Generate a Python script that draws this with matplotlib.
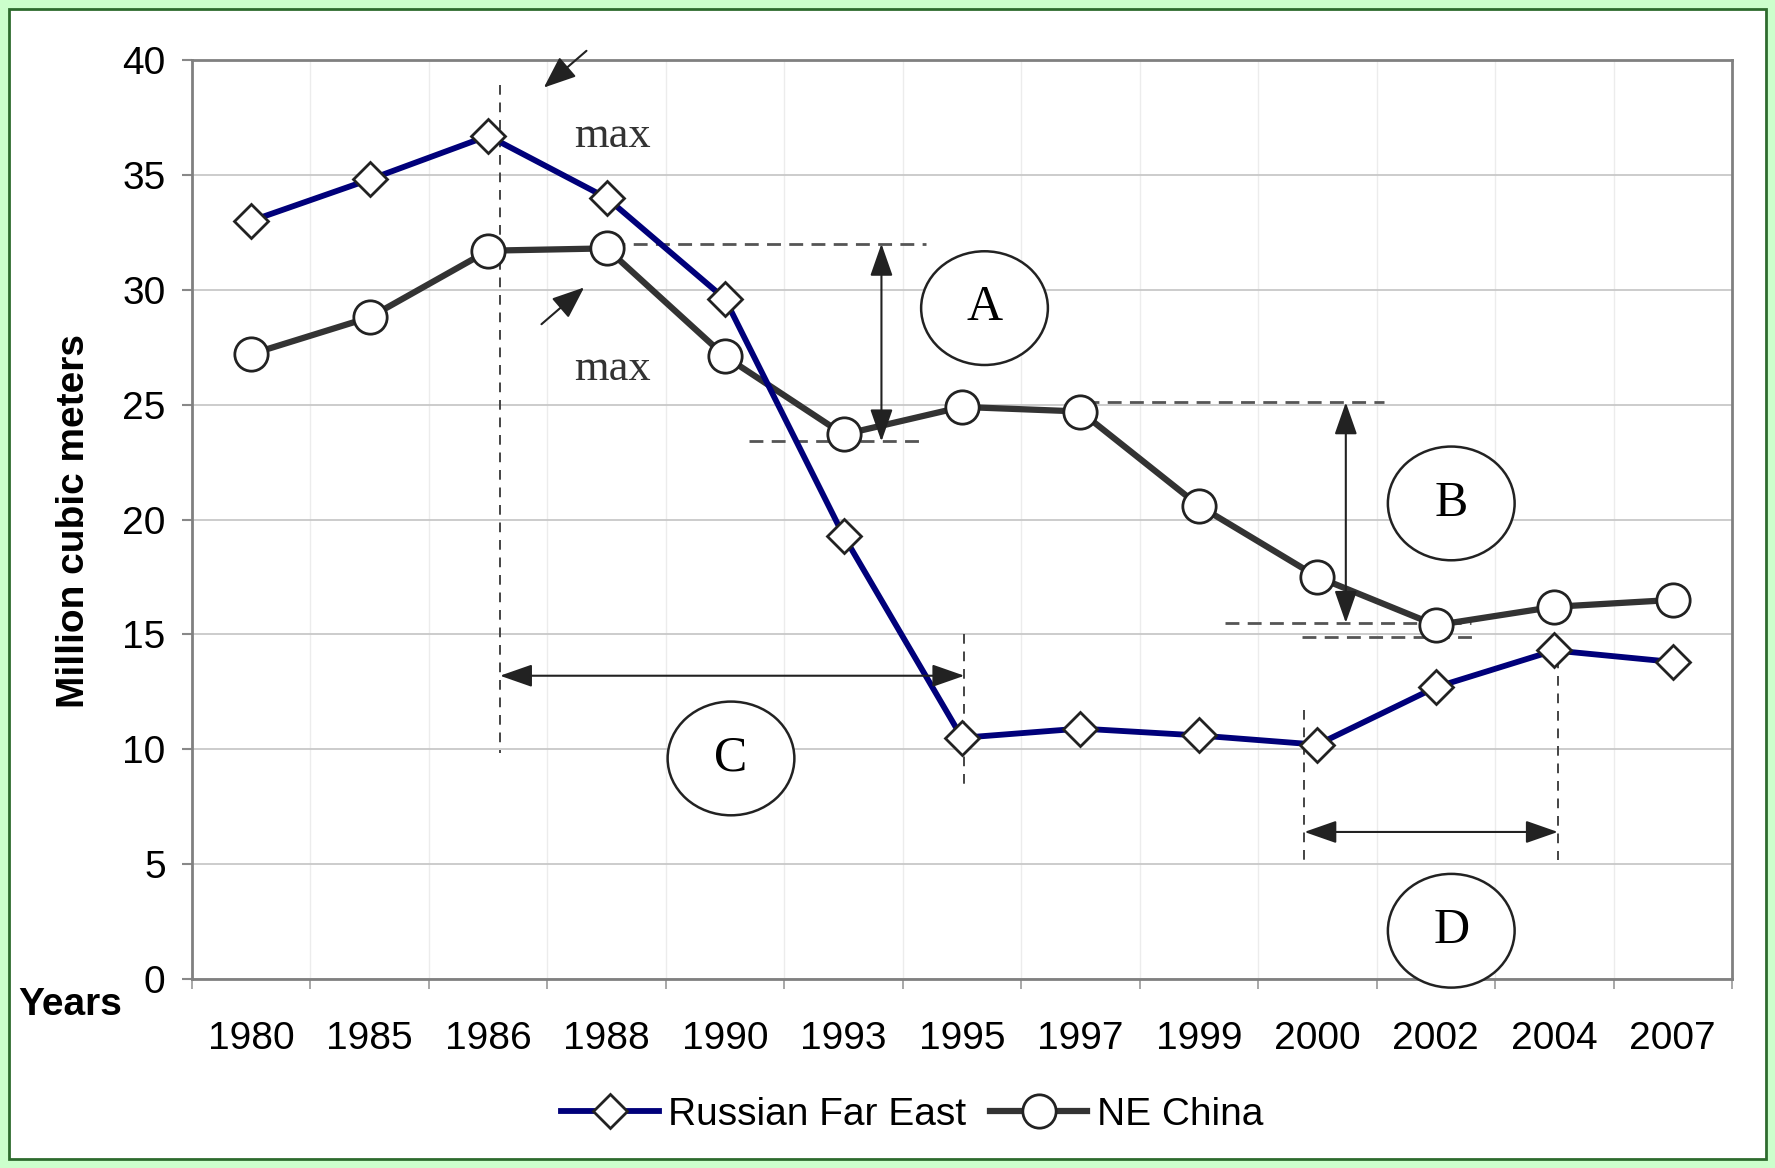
import numpy as np
import matplotlib
matplotlib.use("Agg")
import matplotlib.pyplot as plt
from matplotlib.patches import Ellipse, Rectangle

years = ["1980", "1985", "1986", "1988", "1990", "1993", "1995",
         "1997", "1999", "2000", "2002", "2004", "2007"]
russian_far_east = [33.0, 34.8, 36.7, 34.0, 29.6, 19.3, 10.5,
                    10.9, 10.6, 10.2, 12.7, 14.3, 13.8]
ne_china = [27.2, 28.8, 31.7, 31.8, 27.1, 23.7, 24.9,
            24.7, 20.6, 17.5, 15.4, 16.2, 16.5]

plt.rcParams['font.family'] = ['Liberation Sans', 'DejaVu Sans']

fig = plt.figure(figsize=(17.75, 11.68), dpi=100, facecolor="#ccffcc")
fig.patches.append(Rectangle((9/1775, 9/1168), 1757/1775, 1150/1168,
                             transform=fig.transFigure, facecolor="white",
                             edgecolor="#2e6b2e", linewidth=2, zorder=-5))

ax = fig.add_axes([192/1775, 1-979/1168, 1540/1775, 919/1168], zorder=2)
x = np.arange(len(years))

ax.set_xlim(-0.5, len(years) - 0.5)
ax.set_ylim(0, 40)
ax.set_yticks(range(0, 41, 5))
ax.set_xticks(x)
ax.set_xticklabels(years)
ax.set_xticks(np.arange(-0.5, len(years)), minor=True)
ax.tick_params(axis="x", which="major", length=0, pad=30, labelsize=28)
ax.tick_params(axis="x", which="minor", length=7, color="#999999", width=1.2)
ax.tick_params(axis="y", length=7, color="#888888", width=1.5, pad=12, labelsize=28)
ax.grid(axis="y", which="major", color="#c8c8c8", lw=1.3)
ax.grid(axis="x", which="minor", color="#ececec", lw=1.0)
ax.set_axisbelow(True)
for s in ax.spines.values():
    s.set_color("#808080")
    s.set_linewidth(2)

ax.plot(x, russian_far_east, color="#00007a", lw=4.2, marker="D", ms=17,
        mfc="white", mec="#222222", mew=2, label="Russian Far East", zorder=4)
ax.plot(x, ne_china, color="#333333", lw=4.5, marker="o", ms=24,
        mfc="white", mec="#222222", mew=2, label="NE China", zorder=3)

# annotations
dash = dict(color="#555555", lw=2, ls=(0, (5, 3)), zorder=2)
vdash = dict(color="#444444", lw=1.4, ls=(0, (5, 4)), zorder=2)
ax.plot([2.1, 2.1], [38.9, 9.85], **vdash)
ax.plot([3.04, 5.7], [32.0, 32.0], **dash)
ax.plot([4.2, 5.7], [23.4, 23.4], **dash)
ax.plot([7.04, 9.56], [25.1, 25.1], **dash)
ax.plot([8.22, 10.3], [15.5, 15.5], **dash)
ax.plot([8.87, 10.35], [14.9, 14.9], **dash)
ax.plot([6.02, 6.02], [15.0, 8.3], **vdash)
ax.plot([8.89, 8.89], [11.7, 4.9], **vdash)
ax.plot([11.03, 11.03], [14.7, 5.2], **vdash)

dbl = dict(arrowstyle="<|-|>,head_length=1.0,head_width=0.35", color="#222222",
           lw=1.5, mutation_scale=20, shrinkA=0, shrinkB=0)
one = dict(arrowstyle="-|>,head_length=1.0,head_width=0.4", color="#222222",
           lw=1.5, mutation_scale=20, shrinkA=0, shrinkB=0)
ax.annotate("", xy=(5.32, 32.0), xytext=(5.32, 23.4), arrowprops=dbl, zorder=5)
ax.annotate("", xy=(9.24, 25.1), xytext=(9.24, 15.5), arrowprops=dbl, zorder=5)
ax.annotate("", xy=(2.1, 13.2), xytext=(6.02, 13.2), arrowprops=dbl, zorder=5)
ax.annotate("", xy=(8.89, 6.4), xytext=(11.03, 6.4), arrowprops=dbl, zorder=5)
ax.annotate("", xy=(2.47, 38.8), xytext=(2.83, 40.4), arrowprops=one,
            annotation_clip=False, zorder=5)
ax.annotate("", xy=(2.81, 30.1), xytext=(2.45, 28.5), arrowprops=one, zorder=5)

ax.text(3.05, 36.7, "max", family="Liberation Serif", fontsize=32,
        color="#333333", ha="center", va="center")
ax.text(3.05, 26.55, "max", family="Liberation Serif", fontsize=32,
        color="#333333", ha="center", va="center")

for cx, cy, lab in [(6.19, 29.2, "A"), (10.13, 20.7, "B"),
                    (4.05, 9.6, "C"), (10.13, 2.1, "D")]:
    ax.add_patch(Ellipse((cx, cy), 1.07, 4.95, facecolor="white",
                         edgecolor="#222222", lw=1.8, zorder=6, clip_on=False))
    ax.text(cx, cy, lab, family="Liberation Serif", fontsize=36,
            ha="center", va="center", zorder=7)

fig.text(70/1775, 1-1005/1168, "Years", fontsize=28, fontweight="bold",
         ha="center", va="center")
fig.text(74/1775, 1-521/1168, "Million cubic meters", fontsize=28,
         fontweight="bold", rotation=90, ha="center", va="center")

fig.legend(loc="center", bbox_to_anchor=(0.514, 1-1115/1168), ncol=2,
           frameon=False, fontsize=28, handlelength=2.5, columnspacing=0.6,
           handletextpad=0.25)

fig.savefig("out.png", dpi=100, facecolor=fig.get_facecolor())
